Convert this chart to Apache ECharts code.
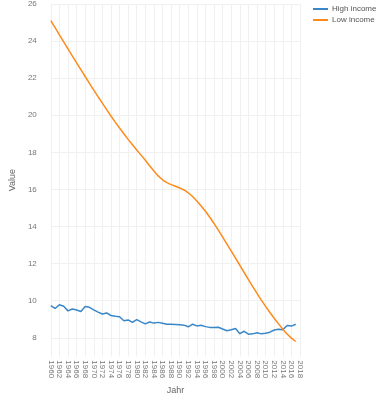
<!DOCTYPE html>
<html>
<head>
<meta charset="utf-8">
<script src="https://cdn.jsdelivr.net/npm/echarts@6/dist/echarts.min.js"></script>
<style>html,body{margin:0;padding:0;background:#fff}#c{width:379px;height:400px}</style>
</head>
<body>
<div id="c"></div>
<script>
var years = [];
for (var y = 1960; y <= 2018; y++) years.push(String(y));

var highIncome = [9.73,9.58,9.78,9.70,9.45,9.55,9.50,9.42,9.68,9.64,
  9.50,9.38,9.28,9.34,9.20,9.16,9.13,8.92,8.96,8.83,
  8.98,8.86,8.75,8.85,8.79,8.83,8.78,8.73,8.73,8.72,
  8.70,8.68,8.59,8.73,8.64,8.67,8.60,8.56,8.56,8.57,
  8.47,8.38,8.43,8.50,8.22,8.35,8.19,8.21,8.27,8.21,
  8.24,8.30,8.42,8.46,8.43,8.66,8.63,8.73,null];

var lowIncome = [25.10,24.72,24.34,23.96,23.58,23.20,22.83,22.46,22.09,21.72,
  21.36,21.00,20.65,20.30,19.96,19.63,19.31,19.00,18.70,18.41,
  18.13,17.85,17.57,17.28,16.99,16.73,16.52,16.37,16.26,16.17,
  16.08,15.97,15.82,15.62,15.38,15.11,14.82,14.50,14.16,13.80,
  13.43,13.05,12.67,12.29,11.91,11.52,11.14,10.76,10.39,10.03,
  9.69,9.36,9.05,8.75,8.46,8.20,7.98,7.80,null];

var yTicks = [8,10,12,14,16,18,20,22,24,26];

var FONT = 'Liberation Sans';
var chart = echarts.init(document.getElementById('c'), null, {renderer: 'canvas'});
chart.setOption({
  animation: false,
  backgroundColor: '#fff',
  grid: {left: 41, right: 79, top: 2, bottom: 38},
  legend: {
    orient: 'vertical', left: 311, top: 3,
    itemWidth: 15, itemHeight: 2, itemGap: 3, padding: [2, 2],
    icon: 'rect',
    textStyle: {fontSize: 8, color: '#555', fontFamily: FONT, padding: [0, 0, 0, -1]},
    data: ['High income', 'Low income']
  },
  xAxis: {
    type: 'category', data: years, boundaryGap: false,
    name: 'Jahr', nameLocation: 'middle', nameGap: 24,
    nameTextStyle: {fontSize: 9, color: '#666', fontFamily: FONT},
    axisLine: {show: false}, axisTick: {show: false},
    axisLabel: {interval: 1, rotate: -90, fontSize: 8, color: '#777', margin: 4, fontFamily: FONT},
    splitLine: {show: true, interval: 1, lineStyle: {color: '#f0f0f0', width: 1}}
  },
  yAxis: {
    type: 'value', min: 7, max: 26,
    name: 'Value', nameLocation: 'middle', nameGap: 19, nameRotate: 90,
    nameTextStyle: {fontSize: 9, color: '#666', fontFamily: FONT},
    axisLine: {show: false},
    axisTick: {show: false, customValues: yTicks},
    axisLabel: {customValues: yTicks, fontSize: 8, color: '#777', margin: 14, fontFamily: FONT},
    splitLine: {show: true, lineStyle: {color: '#f0f0f0', width: 1}}
  },
  series: [
    {name: 'High income', type: 'line', data: highIncome, showSymbol: false, symbol: 'none',
     lineStyle: {width: 1.5, color: '#3a87c8'}, itemStyle: {color: '#3a87c8'}},
    {name: 'Low income', type: 'line', data: lowIncome, showSymbol: false, symbol: 'none',
     lineStyle: {width: 1.5, color: '#ff8a1c'}, itemStyle: {color: '#ff8a1c'}}
  ]
});
</script>
</body>
</html>
